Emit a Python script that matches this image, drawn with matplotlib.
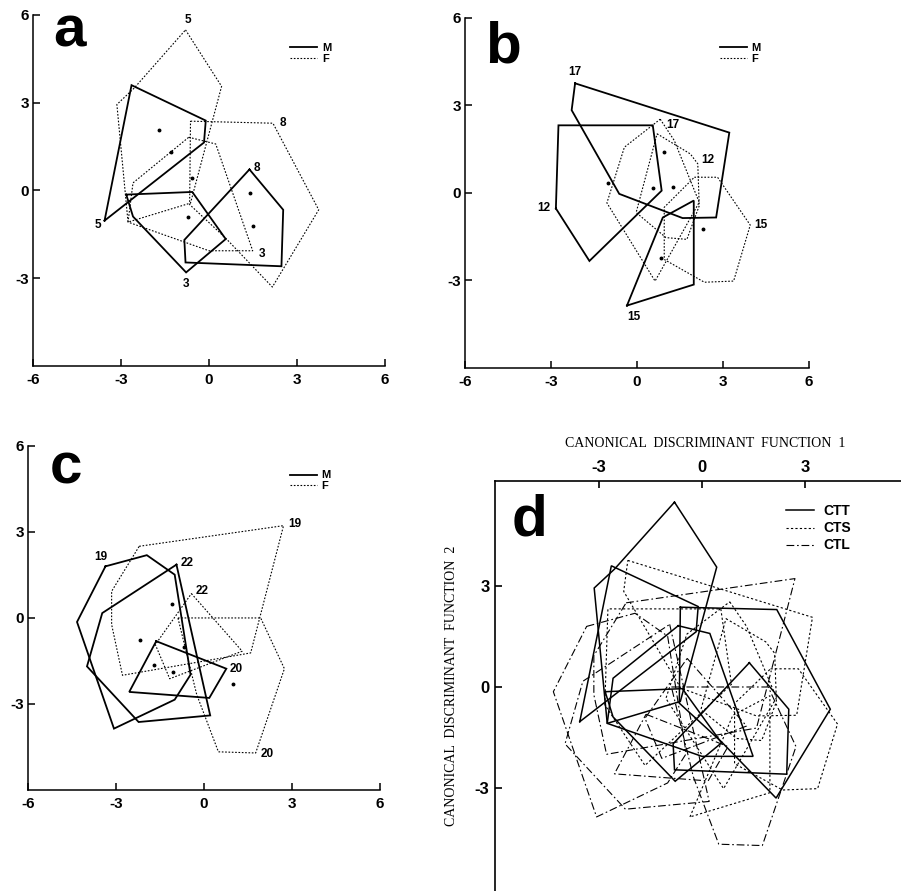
"""
Canonical discriminant analysis: convex hulls of group scores
panels a-c: males (solid) vs females (dotted), panel d: all three taxa
"""

import matplotlib
matplotlib.use("Agg")
import matplotlib.pyplot as plt
from matplotlib.lines import Line2D

plt.rcParams['font.family'] = ['Liberation Sans', 'DejaVu Sans']
plt.rcParams['font.weight'] = 'bold'
plt.rcParams['axes.unicode_minus'] = False

# === DATA (function 1, function 2) ===
# panel a (CTT)
a_m5 = [(-3.56, -1.03), (-2.64, 3.60), (-0.11, 2.39), (-0.17, 1.64)]
a_m3 = [(-2.82, -0.14), (-0.57, -0.05), (0.57, -1.66), (-0.78, -2.80), (-2.59, -0.89)]
a_m8 = [(1.38, 0.72), (2.53, -0.66), (2.47, -2.59), (-0.80, -2.46), (-0.84, -1.69)]
a_f5 = [(-0.80, 5.49), (0.43, 3.56), (-0.63, -0.43), (-2.76, -1.08), (-3.14, 2.94), (-2.55, 3.50)]
a_f3 = [(-0.69, 1.82), (0.23, 1.59), (1.49, -2.06), (0.00, -2.06), (-2.76, -1.08), (-2.59, 0.26)]
a_f8 = [(-0.63, 2.37), (2.18, 2.30), (3.74, -0.66), (2.16, -3.30), (0.57, -1.63), (-0.66, -0.48)]
a_labels = ['5', '3', '8']
a_dots_x = [-1.69, -1.30, -0.57, -0.71, 1.40, 1.49]
a_dots_y = [2.08, 1.33, 0.44, -0.91, -0.10, -1.23]

# panel b (CTS)
b_m17 = [(-2.16, 3.76), (3.22, 2.07), (2.76, -0.84), (1.59, -0.86), (-0.62, -0.03), (-2.28, 2.84)]
b_m12 = [(-2.83, -0.53), (-2.74, 2.32), (0.55, 2.32), (0.86, 0.08), (-1.66, -2.33)]
b_m15 = [(-0.35, -3.86), (0.90, -0.84), (1.98, -0.26), (1.98, -3.14)]
b_f17 = [(0.81, 2.53), (1.30, 1.80), (2.17, -0.32), (0.63, -3.02), (-1.05, -0.34), (-0.44, 1.57)]
b_f12 = [(0.70, 2.03), (1.86, 1.34), (2.12, 1.00), (2.17, -0.44), (1.74, -1.59), (1.01, -1.53), (-0.03, -0.67)]
b_f15 = [(2.00, 0.54), (2.81, 0.54), (3.95, -1.10), (3.37, -3.02), (2.35, -3.06), (0.95, -2.28), (0.95, -0.49)]
b_labels = ['17', '12', '15']
b_dots_x = [-1.02, 0.55, 0.95, 1.27, 2.29, 0.84]
b_dots_y = [0.34, 0.17, 1.40, 0.22, -1.24, -2.22]

# panel c (CTL)
c_m19 = [(-3.36, 1.80), (-1.95, 2.19), (-1.00, 1.51), (-0.46, -1.98), (-1.00, -2.85), (-3.07, -3.86), (-4.33, -0.14)]
c_m22 = [(-0.94, 1.86), (0.21, -3.40), (-2.23, -3.63), (-3.99, -1.69), (-3.47, 0.17)]
c_m20 = [(-1.63, -0.81), (0.76, -1.77), (0.18, -2.79), (-2.55, -2.58)]
c_f19 = [(-2.21, 2.50), (2.71, 3.22), (1.59, -1.22), (-2.78, -2.00), (-3.15, -0.23), (-3.15, 0.93)]
c_f22 = [(-0.43, 0.85), (1.30, -1.16), (-1.17, -2.12), (-1.66, -0.93)]
c_f20 = [(-0.89, 0.00), (1.93, 0.00), (2.74, -1.77), (1.76, -4.71), (0.49, -4.67), (-0.25, -2.67)]
c_labels = ['19', '22', '20']
c_dots_x = [-1.09, -2.18, -0.68, -1.69, -1.06, 0.99]
c_dots_y = [0.47, -0.78, -1.02, -1.63, -1.88, -2.29]

taxa = ['CTT', 'CTS', 'CTL']

# where the group numbers sit: (vertex index, offset in points)
a_m_tags = [(0, (-5, -3)), (3, (0, -8)), (0, (5, 1))]
a_f_tags = [(0, (2, 7)), (2, (7, -2)), (1, (7, 0))]
b_m_tags = [(0, (0, 8)), (0, (-9, 0)), (0, (5, -8))]
b_f_tags = [(0, (9, -4)), (2, (7, 3)), (2, (8, 0))]
c_m_tags = [(0, (-3, 7)), (0, (8, 1)), (1, (7, 0))]
c_f_tags = [(1, (8, 1)), (0, (8, 2)), (3, (8, -1))]

SOLID = '-'
DOTTED = (0, (1.5, 1.5))
DASHED = (0, (2, 2))
DASHDOT = (0, (7, 2.5, 1.5, 2.5))


def closed(hull):
    xs = [p[0] for p in hull] + [hull[0][0]]
    ys = [p[1] for p in hull] + [hull[0][1]]
    return xs, ys


def draw_hulls(ax, hulls, ls, lw, labels=None, tags=None):
    for i, hull in enumerate(hulls):
        xs, ys = closed(hull)
        ax.plot(xs, ys, color='black', linestyle=ls, linewidth=lw,
                solid_joinstyle='miter')
        if labels is not None:
            k, off = tags[i]
            ax.annotate(labels[i], hull[k], xytext=off, textcoords='offset points',
                        ha='center', va='center', fontsize=8.5, fontweight='bold')


def small_panel(ax, letter, m_hulls, f_hulls, labels, m_tags, f_tags, dx, dy, pos):
    draw_hulls(ax, m_hulls, SOLID, 1.3, labels, m_tags)
    draw_hulls(ax, f_hulls, DOTTED, 0.8, labels, f_tags)
    ax.plot(dx, dy, 'o', color='black', markersize=1.8)

    ax.set_xlim(-6, 6)
    ax.set_ylim(-6, 6)
    ax.set_xticks([-6, -3, 0, 3, 6])
    ax.set_yticks([-3, 0, 3, 6])
    ax.spines['top'].set_visible(False)
    ax.spines['right'].set_visible(False)
    for s in ('left', 'bottom'):
        ax.spines[s].set_linewidth(1.1)
    ax.tick_params(axis='x', direction='in', length=5, width=1.1, labelsize=11, pad=5)
    ax.tick_params(axis='y', direction='in', length=5, width=1.1, labelsize=11, pad=3)

    # panel letter
    ax.text(pos[2], pos[3], letter, transform=ax.transAxes, fontsize=42,
            fontweight='heavy', ha='left', va='baseline')
    handles = [Line2D([], [], color='black', ls=SOLID, lw=1.3),
               Line2D([], [], color='black', ls=DOTTED, lw=0.8)]
    ax.legend(handles, ['M', 'F'], loc='upper left', bbox_to_anchor=pos[:2],
              frameon=False, borderpad=0, handlelength=2.4, handletextpad=0.45,
              labelspacing=0.05, prop={'size': 8, 'weight': 'bold'})


fig = plt.figure(figsize=(9.01, 8.91), dpi=100)

ax_a = fig.add_axes([0.0366, 0.5892, 0.3907, 0.3940])
ax_b = fig.add_axes([0.5161, 0.5870, 0.3818, 0.3928])
ax_c = fig.add_axes([0.0311, 0.1134, 0.3907, 0.3861])
ax_d = fig.add_axes([0.5494, 0.0, 0.4506, 0.4602])

small_panel(ax_a, 'a', [a_m5, a_m3, a_m8], [a_f5, a_f3, a_f8], a_labels,
            a_m_tags, a_f_tags, a_dots_x, a_dots_y, (0.715, 0.935, 0.057, 0.909))
small_panel(ax_b, 'b', [b_m17, b_m12, b_m15], [b_f17, b_f12, b_f15], b_labels,
            b_m_tags, b_f_tags, b_dots_x, b_dots_y, (0.725, 0.944, 0.058, 0.874))
small_panel(ax_c, 'c', [c_m19, c_m22, c_m20], [c_f19, c_f22, c_f20], c_labels,
            c_m_tags, c_f_tags, c_dots_x, c_dots_y, (0.728, 0.945, 0.062, 0.892))

# --- panel d: all hulls of the three taxa ---
draw_hulls(ax_d, [a_m5, a_m3, a_m8, a_f5, a_f3, a_f8], SOLID, 1.1)
draw_hulls(ax_d, [b_m17, b_m12, b_m15, b_f17, b_f12, b_f15], DASHED, 0.8)
draw_hulls(ax_d, [c_m19, c_m22, c_m20, c_f19, c_f22, c_f20], DASHDOT, 0.8)

ax_d.set_xlim(-6.03, 5.80)
ax_d.set_ylim(-6.06, 6.12)
ax_d.xaxis.tick_top()
ax_d.set_xticks([-3, 0, 3])
ax_d.set_yticks([-3, 0, 3])
ax_d.spines['bottom'].set_visible(False)
ax_d.spines['right'].set_visible(False)
for s in ('left', 'top'):
    ax_d.spines[s].set_linewidth(1.2)
ax_d.tick_params(axis='both', direction='in', length=5, width=1.2, labelsize=12, pad=4)

serif = {'family': ['Liberation Serif', 'DejaVu Serif'], 'weight': 'normal', 'size': 10}
ax_d.xaxis.set_label_position('top')
ax_d.set_xlabel('CANONICAL  DISCRIMINANT  FUNCTION  1', fontdict=serif)
ax_d.xaxis.set_label_coords(0.517, 1.082)
ax_d.set_ylabel('CANONICAL  DISCRIMINANT  FUNCTION  2', fontdict=serif)
ax_d.yaxis.set_label_coords(-0.092, 0.50)

ax_d.text(0.042, 0.868, 'd', transform=ax_d.transAxes, fontsize=42,
          fontweight='heavy', ha='left', va='baseline')
d_handles = [Line2D([], [], color='black', ls=SOLID, lw=1.1),
             Line2D([], [], color='black', ls=DASHED, lw=0.8),
             Line2D([], [], color='black', ls=DASHDOT, lw=0.8)]
ax_d.legend(d_handles, taxa, loc='upper left', bbox_to_anchor=(0.70, 0.96),
            frameon=False, borderpad=0, handlelength=2.0, handletextpad=0.65,
            labelspacing=0.22, prop={'size': 10, 'weight': 'bold'})

plt.savefig('out.png', dpi=100)
